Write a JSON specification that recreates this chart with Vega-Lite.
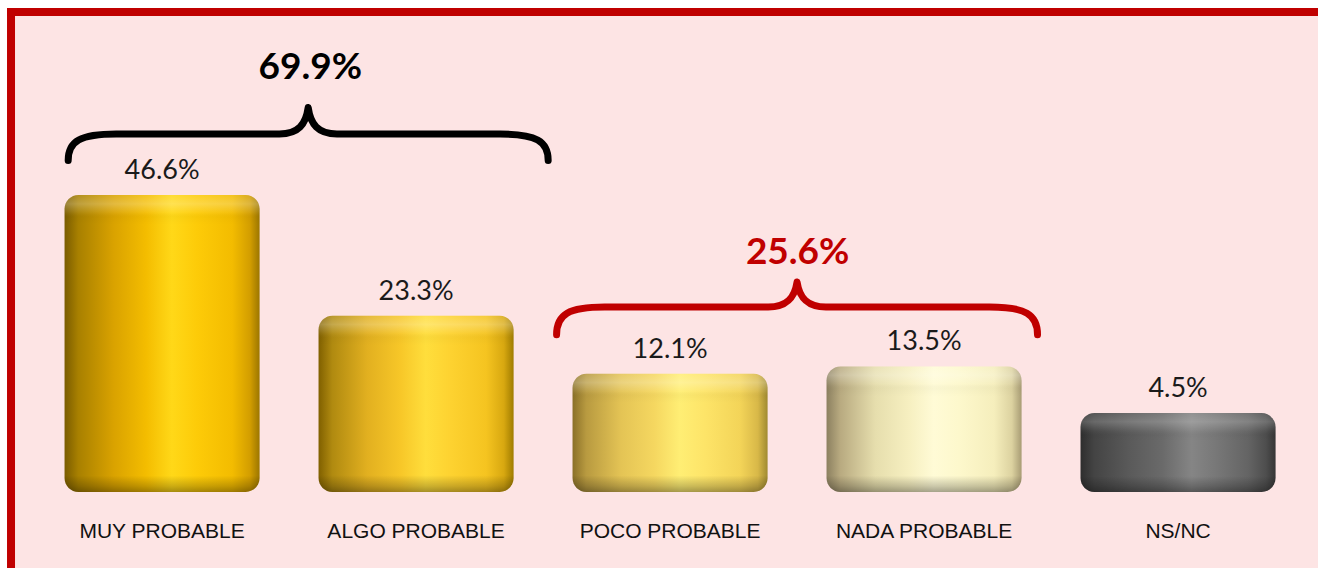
{
  "$schema": "https://vega.github.io/schema/vega-lite/v6.json",
  "width": 1307,
  "height": 576,
  "autosize": {"type": "none"},
  "padding": {"left": 11, "top": 12, "right": 0, "bottom": -20},
  "background": "#ffffff",
  "config": {
    "view": {"fill": "#fde4e4", "stroke": null}
  },
  "datasets": {
    "bars": [
      {"cat": "Muy probable", "label": "MUY PROBABLE", "pct": 46.6},
      {"cat": "Algo probable", "label": "ALGO PROBABLE", "pct": 23.3},
      {"cat": "Poco probable", "label": "POCO PROBABLE", "pct": 12.1},
      {"cat": "Nada probable", "label": "NADA PROBABLE", "pct": 13.5},
      {"cat": "Ns/Nc", "label": "NS/NC", "pct": 4.5}
    ],
    "groups": [
      {"group": "probable", "anchor": "Muy probable", "total": 69.9},
      {"group": "improbable", "anchor": "Poco probable", "total": 25.6}
    ]
  },
  "data": {"name": "bars"},
  "layer": [
    {
      "transform": [{"filter": "datum.cat === 'Muy probable'"}],
      "mark": {"type": "bar", "cornerRadius": 14, "color": {"gradient": "linear", "x1": 0, "x2": 1, "y1": 0, "y2": 0, "stops": [
        {"offset": 0, "color": "#7a5c00"}, {"offset": 0.07, "color": "#a88000"}, {"offset": 0.25, "color": "#d9a200"}, {"offset": 0.42, "color": "#f4bd00"}, {"offset": 0.55, "color": "#ffd818"}, {"offset": 0.68, "color": "#fdcb08"}, {"offset": 0.86, "color": "#f3bc00"}, {"offset": 0.95, "color": "#d39e00"}, {"offset": 1, "color": "#9c7600"}]}},
      "encoding": {
        "x": {"field": "cat", "type": "nominal", "sort": null, "axis": null, "scale": {"domain": ["Muy probable", "Algo probable", "Poco probable", "Nada probable", "Ns/Nc"], "paddingInner": 0.232, "paddingOuter": 0.1889, "align": 0.558}},
        "y": {"field": "pct", "type": "quantitative", "axis": null, "scale": {"domain": [-29.27, 81.93], "nice": false, "zero": false}},
        "y2": {"datum": -10.73}
      }
    },
    {
      "transform": [{"filter": "datum.cat === 'Algo probable'"}],
      "mark": {"type": "bar", "cornerRadius": 14, "color": {"gradient": "linear", "x1": 0, "x2": 1, "y1": 0, "y2": 0, "stops": [
        {"offset": 0, "color": "#806000"}, {"offset": 0.07, "color": "#b08a10"}, {"offset": 0.25, "color": "#e2b020"}, {"offset": 0.42, "color": "#f7c728"}, {"offset": 0.55, "color": "#ffde3c"}, {"offset": 0.68, "color": "#fdd230"}, {"offset": 0.86, "color": "#f5c420"}, {"offset": 0.95, "color": "#d8a810"}, {"offset": 1, "color": "#a07c00"}]}},
      "encoding": {
        "x": {"field": "cat", "type": "nominal", "sort": null},
        "y": {"field": "pct", "type": "quantitative"},
        "y2": {"datum": -10.73}
      }
    },
    {
      "transform": [{"filter": "datum.cat === 'Poco probable'"}],
      "mark": {"type": "bar", "cornerRadius": 14, "color": {"gradient": "linear", "x1": 0, "x2": 1, "y1": 0, "y2": 0, "stops": [
        {"offset": 0, "color": "#8a7028"}, {"offset": 0.07, "color": "#b89a40"}, {"offset": 0.25, "color": "#e4c455"}, {"offset": 0.42, "color": "#f5d760"}, {"offset": 0.55, "color": "#ffee74"}, {"offset": 0.68, "color": "#fde468"}, {"offset": 0.86, "color": "#f3d458"}, {"offset": 0.95, "color": "#d8b848"}, {"offset": 1, "color": "#a08a30"}]}},
      "encoding": {
        "x": {"field": "cat", "type": "nominal", "sort": null},
        "y": {"field": "pct", "type": "quantitative"},
        "y2": {"datum": -10.73}
      }
    },
    {
      "transform": [{"filter": "datum.cat === 'Nada probable'"}],
      "mark": {"type": "bar", "cornerRadius": 14, "color": {"gradient": "linear", "x1": 0, "x2": 1, "y1": 0, "y2": 0, "stops": [
        {"offset": 0, "color": "#8c8060"}, {"offset": 0.07, "color": "#b8aa80"}, {"offset": 0.25, "color": "#e6dead"}, {"offset": 0.42, "color": "#f6efc0"}, {"offset": 0.55, "color": "#fffbd6"}, {"offset": 0.68, "color": "#fdf8cc"}, {"offset": 0.86, "color": "#f5eebc"}, {"offset": 0.95, "color": "#dcd2a0"}, {"offset": 1, "color": "#a89c74"}]}},
      "encoding": {
        "x": {"field": "cat", "type": "nominal", "sort": null},
        "y": {"field": "pct", "type": "quantitative"},
        "y2": {"datum": -10.73}
      }
    },
    {
      "transform": [{"filter": "datum.cat === 'Ns/Nc'"}],
      "mark": {"type": "bar", "cornerRadius": 14, "color": {"gradient": "linear", "x1": 0, "x2": 1, "y1": 0, "y2": 0, "stops": [
        {"offset": 0, "color": "#2e2e2e"}, {"offset": 0.07, "color": "#444444"}, {"offset": 0.25, "color": "#5a5a5a"}, {"offset": 0.42, "color": "#6a6a6a"}, {"offset": 0.57, "color": "#858585"}, {"offset": 0.7, "color": "#777777"}, {"offset": 0.86, "color": "#646464"}, {"offset": 0.95, "color": "#4e4e4e"}, {"offset": 1, "color": "#363636"}]}},
      "encoding": {
        "x": {"field": "cat", "type": "nominal", "sort": null},
        "y": {"field": "pct", "type": "quantitative"},
        "y2": {"datum": -10.73}
      }
    },
    {
      "transform": [{"filter": "datum.cat === 'Muy probable'"}],
      "mark": {"type": "bar", "cornerRadius": 14, "color": {"gradient": "linear", "x1": 0, "x2": 0, "y1": 0, "y2": 1, "stops": [
        {"offset": 0, "color": "rgba(255,255,255,0.12)"}, {"offset": 0.03, "color": "rgba(255,255,255,0.25)"}, {"offset": 0.06, "color": "rgba(255,255,255,0.05)"}, {"offset": 0.075, "color": "rgba(0,0,0,0.02)"}, {"offset": 0.1, "color": "rgba(0,0,0,0)"}, {"offset": 0.945, "color": "rgba(0,0,0,0)"}, {"offset": 0.98, "color": "rgba(0,0,0,0.2)"}, {"offset": 1, "color": "rgba(0,0,0,0.35)"}]}},
      "encoding": {
        "x": {"field": "cat", "type": "nominal", "sort": null},
        "y": {"field": "pct", "type": "quantitative"},
        "y2": {"datum": -10.73}
      }
    },
    {
      "transform": [{"filter": "datum.cat === 'Algo probable'"}],
      "mark": {"type": "bar", "cornerRadius": 14, "color": {"gradient": "linear", "x1": 0, "x2": 0, "y1": 0, "y2": 1, "stops": [
        {"offset": 0, "color": "rgba(255,255,255,0.12)"}, {"offset": 0.05, "color": "rgba(255,255,255,0.25)"}, {"offset": 0.1, "color": "rgba(255,255,255,0.05)"}, {"offset": 0.128, "color": "rgba(0,0,0,0.02)"}, {"offset": 0.17, "color": "rgba(0,0,0,0)"}, {"offset": 0.905, "color": "rgba(0,0,0,0)"}, {"offset": 0.966, "color": "rgba(0,0,0,0.2)"}, {"offset": 1, "color": "rgba(0,0,0,0.35)"}]}},
      "encoding": {
        "x": {"field": "cat", "type": "nominal", "sort": null},
        "y": {"field": "pct", "type": "quantitative"},
        "y2": {"datum": -10.73}
      }
    },
    {
      "transform": [{"filter": "datum.cat === 'Poco probable'"}],
      "mark": {"type": "bar", "cornerRadius": 14, "color": {"gradient": "linear", "x1": 0, "x2": 0, "y1": 0, "y2": 1, "stops": [
        {"offset": 0, "color": "rgba(255,255,255,0.12)"}, {"offset": 0.075, "color": "rgba(255,255,255,0.25)"}, {"offset": 0.15, "color": "rgba(255,255,255,0.05)"}, {"offset": 0.19, "color": "rgba(0,0,0,0.02)"}, {"offset": 0.25, "color": "rgba(0,0,0,0)"}, {"offset": 0.86, "color": "rgba(0,0,0,0)"}, {"offset": 0.949, "color": "rgba(0,0,0,0.2)"}, {"offset": 1, "color": "rgba(0,0,0,0.35)"}]}},
      "encoding": {
        "x": {"field": "cat", "type": "nominal", "sort": null},
        "y": {"field": "pct", "type": "quantitative"},
        "y2": {"datum": -10.73}
      }
    },
    {
      "transform": [{"filter": "datum.cat === 'Nada probable'"}],
      "mark": {"type": "bar", "cornerRadius": 14, "color": {"gradient": "linear", "x1": 0, "x2": 0, "y1": 0, "y2": 1, "stops": [
        {"offset": 0, "color": "rgba(255,255,255,0.12)"}, {"offset": 0.07, "color": "rgba(255,255,255,0.25)"}, {"offset": 0.14, "color": "rgba(255,255,255,0.05)"}, {"offset": 0.18, "color": "rgba(0,0,0,0.02)"}, {"offset": 0.24, "color": "rgba(0,0,0,0)"}, {"offset": 0.87, "color": "rgba(0,0,0,0)"}, {"offset": 0.952, "color": "rgba(0,0,0,0.2)"}, {"offset": 1, "color": "rgba(0,0,0,0.35)"}]}},
      "encoding": {
        "x": {"field": "cat", "type": "nominal", "sort": null},
        "y": {"field": "pct", "type": "quantitative"},
        "y2": {"datum": -10.73}
      }
    },
    {
      "transform": [{"filter": "datum.cat === 'Ns/Nc'"}],
      "mark": {"type": "bar", "cornerRadius": 14, "color": {"gradient": "linear", "x1": 0, "x2": 0, "y1": 0, "y2": 1, "stops": [
        {"offset": 0, "color": "rgba(255,255,255,0.1)"}, {"offset": 0.11, "color": "rgba(255,255,255,0.2)"}, {"offset": 0.22, "color": "rgba(255,255,255,0.04)"}, {"offset": 0.28, "color": "rgba(0,0,0,0.02)"}, {"offset": 0.36, "color": "rgba(0,0,0,0)"}, {"offset": 0.8, "color": "rgba(0,0,0,0)"}, {"offset": 0.925, "color": "rgba(0,0,0,0.2)"}, {"offset": 1, "color": "rgba(0,0,0,0.35)"}]}},
      "encoding": {
        "x": {"field": "cat", "type": "nominal", "sort": null},
        "y": {"field": "pct", "type": "quantitative"},
        "y2": {"datum": -10.73}
      }
    },
    {
      "transform": [{"calculate": "format(datum.pct, '.1f') + '%'", "as": "pctText"}],
      "mark": {"type": "text", "font": "Lato", "fontSize": 27, "color": "#1a1a1a", "baseline": "alphabetic", "dy": -16},
      "encoding": {
        "x": {"field": "cat", "type": "nominal", "sort": null},
        "y": {"field": "pct", "type": "quantitative"},
        "text": {"field": "pctText"}
      }
    },
    {
      "mark": {"type": "text", "font": "Liberation Sans", "fontSize": 21, "color": "#111111", "baseline": "middle"},
      "encoding": {
        "x": {"field": "cat", "type": "nominal", "sort": null},
        "y": {"datum": -18.46, "type": "quantitative"},
        "text": {"field": "label"}
      }
    },
    {
      "data": {"name": "groups"},
      "transform": [{"filter": "datum.group === 'probable'"}],
      "mark": {"type": "point", "filled": false, "color": "#000000", "strokeWidth": 7, "strokeCap": "round", "strokeJoin": "round", "opacity": 1, "size": 230400,
        "shape": "M -1 0.11 C -1 0.03 -0.95 0 -0.8 0 L -0.12 0 C -0.04 0 -0.01 -0.04 0 -0.11 C 0.01 -0.04 0.04 0 0.12 0 L 0.8 0 C 0.95 0 1 0.03 1 0.11"},
      "encoding": {
        "x": {"field": "anchor", "type": "nominal", "sort": null, "bandPosition": 1.249},
        "y": {"datum": 58.38, "type": "quantitative"}
      }
    },
    {
      "data": {"name": "groups"},
      "transform": [{"filter": "datum.group === 'probable'"}, {"calculate": "format(datum.total, '.1f') + '%'", "as": "totalText"}],
      "mark": {"type": "text", "font": "Lato", "fontSize": 37, "fontWeight": "bold", "color": "#000000", "baseline": "middle"},
      "encoding": {
        "x": {"field": "anchor", "type": "nominal", "sort": null, "bandPosition": 1.26},
        "y": {"datum": 71.2, "type": "quantitative"},
        "text": {"field": "totalText"}
      }
    },
    {
      "data": {"name": "groups"},
      "transform": [{"filter": "datum.group === 'improbable'"}],
      "mark": {"type": "point", "filled": false, "color": "#c00000", "strokeWidth": 7, "strokeCap": "round", "strokeJoin": "round", "opacity": 1, "size": 231300,
        "shape": "M -1 0.115 C -1 0.03 -0.95 0 -0.8 0 L -0.12 0 C -0.04 0 -0.01 -0.04 0 -0.104 C 0.01 -0.04 0.04 0 0.12 0 L 0.8 0 C 0.95 0 1 0.03 1 0.115"},
      "encoding": {
        "x": {"field": "anchor", "type": "nominal", "sort": null, "bandPosition": 1.151},
        "y": {"datum": 24.98, "type": "quantitative"}
      }
    },
    {
      "data": {"name": "groups"},
      "transform": [{"filter": "datum.group === 'improbable'"}, {"calculate": "format(datum.total, '.1f') + '%'", "as": "totalText"}],
      "mark": {"type": "text", "font": "Lato", "fontSize": 37, "fontWeight": "bold", "color": "#c00000", "baseline": "middle"},
      "encoding": {
        "x": {"field": "anchor", "type": "nominal", "sort": null, "bandPosition": 1.154},
        "y": {"datum": 35.4, "type": "quantitative"},
        "text": {"field": "totalText"}
      }
    },
    {
      "data": {"values": [{"edge": "top"}]},
      "mark": {"type": "rule", "color": "#c00000", "strokeWidth": 8, "strokeCap": "square"},
      "encoding": {
        "y": {"datum": 81.93, "type": "quantitative"}
      }
    },
    {
      "data": {"values": [{"edge": "left"}]},
      "mark": {"type": "rule", "color": "#c00000", "strokeWidth": 8, "strokeCap": "square"},
      "encoding": {
        "x": {"datum": "Muy probable", "type": "nominal", "bandPosition": -0.2744}
      }
    }
  ]
}
